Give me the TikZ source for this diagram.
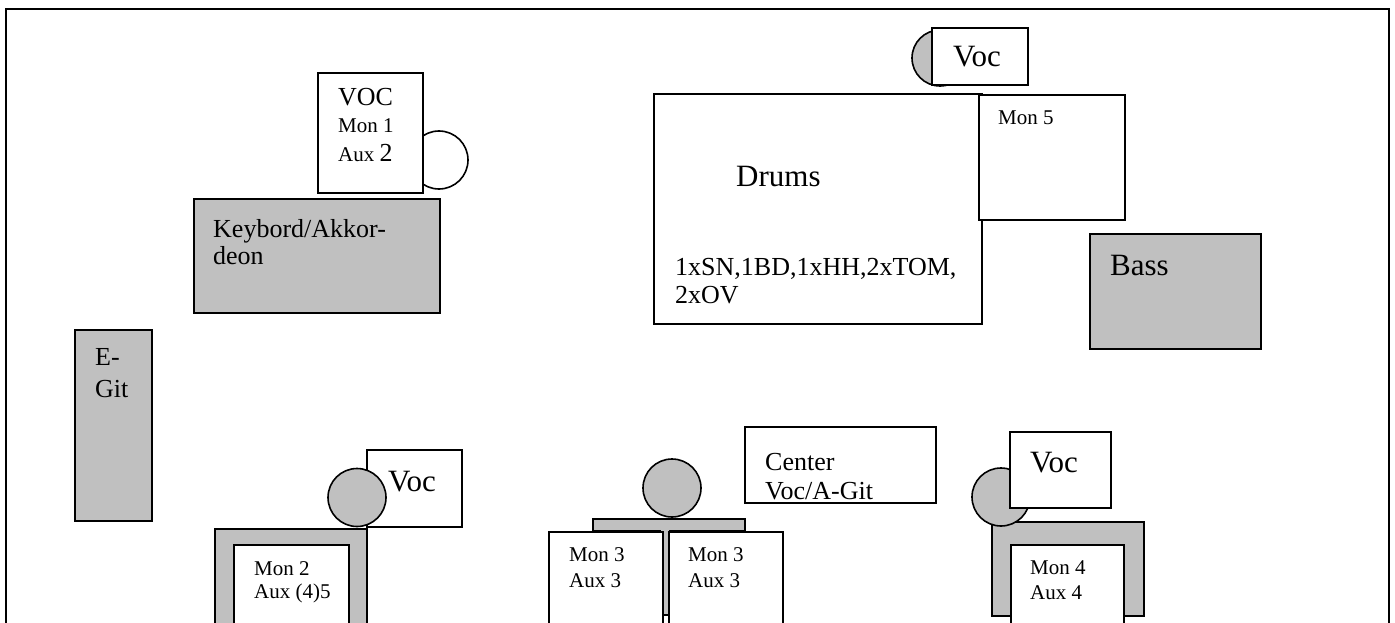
\documentclass[tikz,border=0pt]{standalone}
\usepackage{fontspec}
\setmainfont{Liberation Serif}
\definecolor{stagegray}{RGB}{192,192,192}
\newcommand{\bigtxt}{\fontsize{31}{33}\selectfont}
\newcommand{\midtxt}{\fontsize{26}{28}\selectfont}
\newcommand{\smalltxt}{\fontsize{21}{23}\selectfont}
\tikzset{
  box/.style={draw=black, line width=2pt, fill=white, rectangle, inner sep=0pt, anchor=north west},
  graybox/.style={box, fill=stagegray},
  head/.style={draw=black, line width=1.6pt, circle, inner sep=0pt, minimum size=58pt},
  grayhead/.style={head, fill=stagegray},
  whitehead/.style={head, fill=white},
  lbl/.style={inner sep=0pt, anchor=base west},
  frameline/.style={draw=black, line width=2.5pt}
}
\begin{document}
\begin{tikzpicture}[x=1pt,y=-1pt]
\clip (0,0) rectangle (1395,623);
\fill[white] (0,0) rectangle (1395,623);
% frame
\coordinate (fbl) at (6,660);
\coordinate (ftl) at (6,9);
\coordinate (ftr) at (1389,9);
\coordinate (fbr) at (1389,660);
\draw[frameline] (fbl) -- (ftl) -- (ftr) -- (fbr);

% top-left VOC
\node[whitehead] (h1) at (439,160) {};
\node[box, minimum width=105pt, minimum height=120pt] (voc1) at (317,72) {};
\node[lbl] (voc1a) at (338,106) {\midtxt VOC};
\node[lbl] (voc1b) at (338,133) {\smalltxt Mon 1};
\node[lbl] (voc1c) at (338,161) {{\smalltxt Aux }{\midtxt 2}};

% keyboard
\node[graybox, minimum width=246pt, minimum height=114pt] (key) at (193,198) {};
\node[lbl] (keya) at (213,237) {\midtxt Keybord/Akkor-};
\node[lbl] (keyb) at (213,264) {\midtxt deon};

% drums
\node[box, minimum width=328pt, minimum height=230pt] (drums) at (653,93) {};
\node[lbl] (drumsa) at (736,186) {\bigtxt Drums};
\node[lbl] (drumsb) at (675,275) {\midtxt 1xSN,1BD,1xHH,2xTOM,};
\node[lbl] (drumsc) at (675,303) {\midtxt 2xOV};
\node[box, minimum width=146pt, minimum height=125pt] (mon5) at (978,94) {};
\node[lbl] (mon5a) at (998,125) {\smalltxt Mon 5};

% top Voc
\node[grayhead, minimum size=56pt] (h2) at (940,58) {};
\node[box, minimum width=96pt, minimum height=57pt] (voc2) at (931,27) {};
\node[lbl] (voc2a) at (953,67) {\bigtxt Voc};

% bass
\node[graybox, minimum width=171pt, minimum height=115pt] (bass) at (1089,233) {};
\node[lbl] (bassa) at (1110,275) {\bigtxt Bass};

% E-Git
\node[graybox, minimum width=77pt, minimum height=191pt] (egit) at (74,329) {};
\node[lbl] (egita) at (95,365) {\midtxt E-};
\node[lbl] (egitb) at (95,397) {\midtxt Git};

% bottom-left group
\node[box, minimum width=95pt, minimum height=77pt] (voc3) at (366,449) {};
\node[lbl] (voc3a) at (388,491) {\bigtxt Voc};
\node[grayhead] (h3) at (357,497.5) {};
\node[graybox, minimum width=152pt, minimum height=120pt] (u2) at (214,528) {};
\node[box, minimum width=115pt, minimum height=100pt] (mon2) at (233,544) {};
\node[lbl] (mon2a) at (254,575) {\smalltxt Mon 2};
\node[lbl] (mon2b) at (254,598) {\smalltxt Aux (4)5};

% middle group
\node[grayhead] (h4) at (672,488) {};
\coordinate (t1) at (593,519);
\coordinate (t2) at (745,519);
\coordinate (t3) at (745,531);
\coordinate (t4) at (670,531);
\coordinate (t5) at (670,615);
\coordinate (t6) at (660,615);
\coordinate (t7) at (660,531);
\coordinate (t8) at (593,531);
\draw[line width=2pt, fill=stagegray] (t1) -- (t2) -- (t3) -- (t4) -- (t5) -- (t6) -- (t7) -- (t8) -- cycle;
\node[box, minimum width=114pt, minimum height=110pt] (mon3l) at (548,531) {};
\node[box, minimum width=114pt, minimum height=110pt] (mon3r) at (668,531) {};
\node[lbl] (mon3la) at (569,561) {\smalltxt Mon 3};
\node[lbl] (mon3lb) at (569,587) {\smalltxt Aux 3};
\node[lbl] (mon3ra) at (688,561) {\smalltxt Mon 3};
\node[lbl] (mon3rb) at (688,587) {\smalltxt Aux 3};
\node[box, minimum width=191pt, minimum height=76pt] (center) at (744,426) {};
\node[lbl] (centera) at (765,470) {\midtxt Center};
\node[lbl] (centerb) at (765,499) {\midtxt Voc/A-Git};

% right group
\node[graybox, minimum width=152pt, minimum height=94pt] (u4) at (991,521) {};
\node[box, minimum width=113pt, minimum height=100pt] (mon4) at (1010,544) {};
\node[lbl] (mon4a) at (1030,574) {\smalltxt Mon 4};
\node[lbl] (mon4b) at (1030,599) {\smalltxt Aux 4};
\node[grayhead] (h5) at (1001,497) {};
\node[box, minimum width=101pt, minimum height=76pt] (voc5) at (1009,431) {};
\node[lbl] (voc5a) at (1030,472) {\bigtxt Voc};
\end{tikzpicture}
\end{document}
